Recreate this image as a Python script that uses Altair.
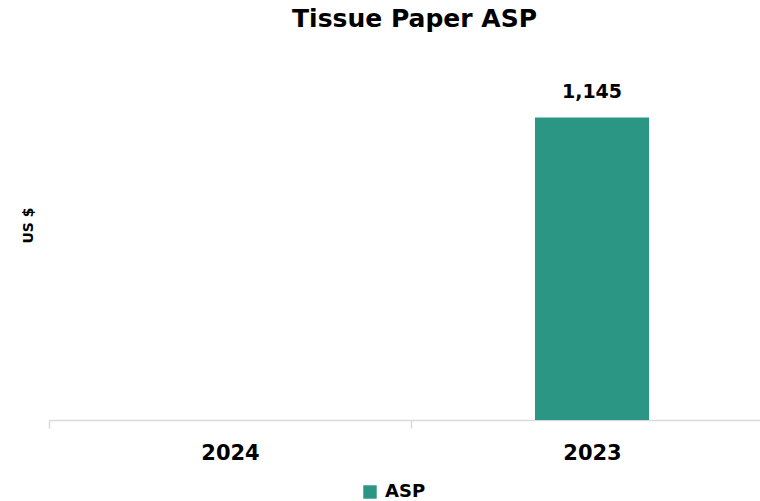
import altair as alt
import pandas as pd

# Average selling price by year (no figure reported for 2024)
years = ["2024", "2023"]
asp_values = [None, 1145]
series_name = ["ASP", "ASP"]

df = pd.DataFrame({"year": years, "asp": asp_values, "series": series_name})

FONT = "DejaVu Sans"
TEAL = "#2a9683"
AXIS_GREY = "#d9d9d9"

x_enc = alt.X(
    "year:N",
    sort=years,
    scale=alt.Scale(domain=years, range=[0, 724], paddingInner=0, paddingOuter=0),
    axis=alt.Axis(
        title=None,
        labelAngle=0,
        labelFont=FONT,
        labelFontWeight="bold",
        labelFontSize=21,
        labelColor="#000000",
        labelPadding=14,
        domainColor=AXIS_GREY,
        domainWidth=1.5,
        tickColor=AXIS_GREY,
        tickWidth=1.5,
        tickSize=8,
        tickBand="extent",
        grid=False,
    ),
)

y_enc = alt.Y(
    "asp:Q",
    scale=alt.Scale(domain=[0, 1400]),
    axis=alt.Axis(
        title="US $",
        labels=False,
        ticks=False,
        domain=False,
        grid=False,
        titleFont=FONT,
        titleFontWeight="bold",
        titleFontSize=14,
        titleColor="#000000",
        titleAngle=270,
        titleAlign="center",
        titleBaseline="middle",
        titleX=-21,
        titleY=175,
    ),
)

bars = alt.Chart(df).mark_bar(
    width=alt.RelativeBandSize(0.315), color=TEAL
).encode(
    x=x_enc,
    y=y_enc,
    color=alt.Color(
        "series:N",
        scale=alt.Scale(domain=["ASP"], range=[TEAL]),
        legend=alt.Legend(
            title=None,
            orient="none",
            legendX=312,
            legendY=433,
            padding=0,
            symbolType="square",
            symbolSize=180,
            symbolStrokeWidth=0,
            symbolOpacity=1,
            labelFont=FONT,
            labelFontWeight="bold",
            labelFontSize=18,
            labelColor="#000000",
            labelOffset=6,
        ),
    ),
)

labels = alt.Chart(df).transform_filter(
    "datum.asp != null"
).mark_text(
    font=FONT, fontWeight="bold", fontSize=19, color="#000000",
    baseline="alphabetic", dy=-19,
).encode(
    x=alt.X("year:N", sort=years),
    y="asp:Q",
    text=alt.Text("asp:Q", format=","),
)

chart = alt.layer(bars, labels).properties(
    width=711,
    height=370,
    background="#ffffff",
    title=alt.TitleParams(
        text="Tissue Paper ASP",
        font=FONT,
        fontWeight="bold",
        fontSize=25,
        color="#000000",
        anchor="middle",
        frame="group",
        baseline="alphabetic",
        offset=22,
        dx=10,
        dy=24,
    ),
    autosize=alt.AutoSizeParams(type="none"),
    padding={"left": 49, "top": 50, "right": 0, "bottom": 81},
).configure_view(
    strokeWidth=0
)

chart.save("out.html", embed_options={"renderer": "svg", "actions": False})
